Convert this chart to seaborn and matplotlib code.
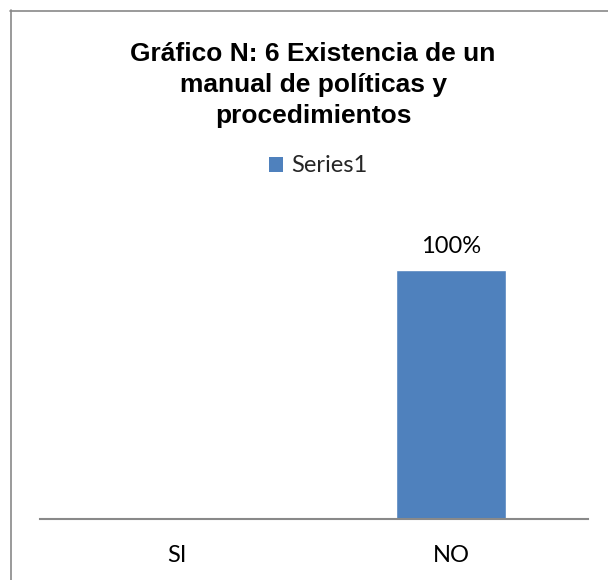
import matplotlib
matplotlib.use("Agg")
import matplotlib.pyplot as plt
from matplotlib.lines import Line2D
from matplotlib.patches import Patch
import seaborn as sns
import pandas as pd

categories = ["SI", "NO"]
values = [0.0, 1.0]
series_name = "Series1"
title = "Gráfico N: 6 Existencia de un\nmanual de políticas y\nprocedimientos"

bar_color = "#4F81BD"
line_gray = "#898989"

sns.set_theme(style="white")
plt.rcParams["font.family"] = ["Lato", "DejaVu Sans"]

W, H, DPI = 608, 580, 100
fig = plt.figure(figsize=(W / DPI, H / DPI), dpi=DPI, facecolor="white")

# plot area in pixel terms
left, right, base, top = 40, 588, 519, 220
ax = fig.add_axes([left / W, (H - base) / H, (right - left) / W, (base - top) / H])

df = pd.DataFrame({"categoria": categories, "valor": values})
sns.barplot(data=df, x="categoria", y="valor", color=bar_color, width=0.4,
            saturation=1, ax=ax)

ax.set_ylim(0, 1.2)
ax.set_xlim(-0.5, 1.5)
ax.set_xlabel("")
ax.set_ylabel("")
ax.set_yticks([])
ax.tick_params(axis="x", length=0, pad=19, labelsize=17, colors="black")
for s in ["top", "right", "left"]:
    ax.spines[s].set_visible(False)
ax.spines["bottom"].set_color(line_gray)
ax.spines["bottom"].set_linewidth(1.5)
ax.set_facecolor("white")

labels = [f"{v:.0%}" if v > 0 else "" for v in values]
ax.bar_label(ax.containers[0], labels=labels, padding=9, fontsize=17, color="black")

fig.text(313 / W, 1 - 42 / H, title, ha="center", va="top", fontsize=19,
         fontweight="bold", family=["Liberation Sans", "DejaVu Sans"],
         linespacing=1.38, color="black")

handle = Patch(facecolor=bar_color, edgecolor="none")
fig.legend([handle], [series_name], loc="center",
           bbox_to_anchor=(318 / W, 1 - 166 / H), frameon=False,
           fontsize=17, handlelength=0.6, handleheight=0.6,
           handletextpad=0.35, borderpad=0)

# chart frame (top and left edges visible)
fig.add_artist(Line2D([10 / W, 1.0], [1 - 10.5 / H, 1 - 10.5 / H],
                      transform=fig.transFigure, color=line_gray, lw=1.2))
fig.add_artist(Line2D([10.5 / W, 10.5 / W], [0, 1 - 10 / H],
                      transform=fig.transFigure, color=line_gray, lw=1.2))

fig.savefig("out.png", dpi=DPI, facecolor="white")
